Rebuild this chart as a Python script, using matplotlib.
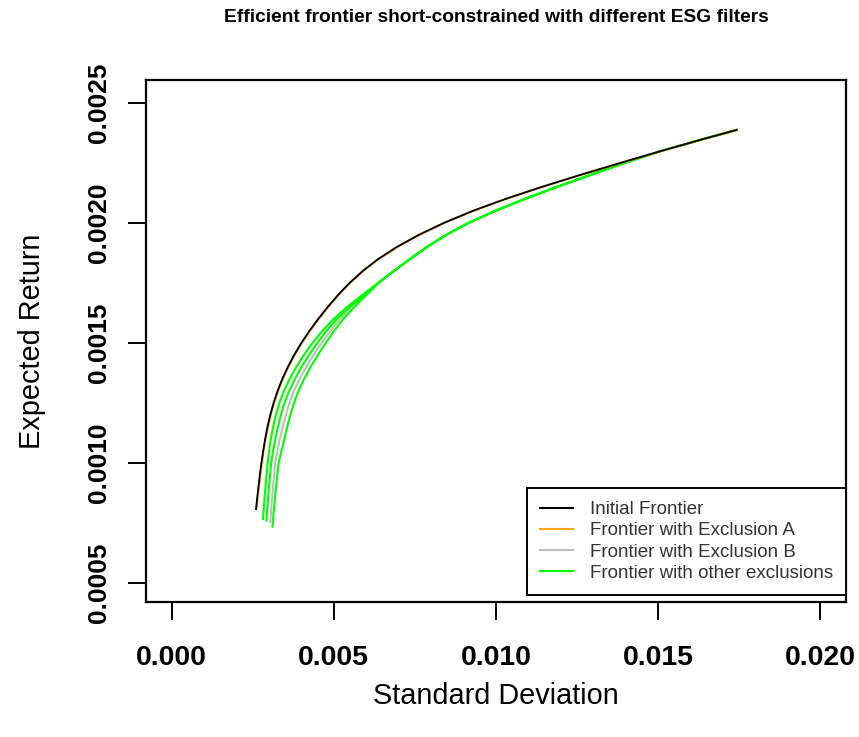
import matplotlib
matplotlib.use("Agg")
import matplotlib.pyplot as plt

plt.rcParams['font.family'] = ['Liberation Sans', 'DejaVu Sans']

# Initial efficient frontier: expected return and standard deviation
init_ret = [0.000808, 0.00085, 0.00090, 0.00095, 0.00100, 0.00105, 0.00110, 0.00115,
            0.00120, 0.00125, 0.00130, 0.00135, 0.00140, 0.00145, 0.00150, 0.00155,
            0.00160, 0.00165, 0.00170, 0.00175, 0.00180, 0.00185, 0.00190, 0.00195,
            0.00200, 0.00205, 0.00210, 0.00215, 0.00220, 0.00225, 0.00230, 0.00235, 0.002388]
init_sd = [0.002604, 0.002637, 0.002678, 0.002722, 0.002770, 0.002824, 0.002885, 0.002957,
           0.003043, 0.003145, 0.003268, 0.003413, 0.003583, 0.003778, 0.004000, 0.004247,
           0.004518, 0.004812, 0.005130, 0.005485, 0.005890, 0.006368, 0.006940, 0.007611,
           0.008385, 0.009272, 0.010285, 0.011397, 0.012585, 0.013822, 0.015085, 0.016388, 0.017417]

# Frontier with exclusion A (practically on top of the initial one)
excl_a_ret = [0.000810, 0.00085, 0.00090, 0.00095, 0.00100, 0.00105, 0.00110, 0.00115,
              0.00120, 0.00125, 0.00130, 0.00135, 0.00140, 0.00145, 0.00150, 0.00155,
              0.00160, 0.00165, 0.00170, 0.00175, 0.00180, 0.00185, 0.00190, 0.00195,
              0.00200, 0.00205, 0.00210, 0.00215, 0.00220, 0.00225, 0.00230, 0.00235, 0.002388]
excl_a_sd = [0.002622, 0.002652, 0.002693, 0.002737, 0.002785, 0.002839, 0.002900, 0.002972,
             0.003058, 0.003160, 0.003283, 0.003428, 0.003598, 0.003793, 0.004015, 0.004262,
             0.004533, 0.004827, 0.005145, 0.005500, 0.005905, 0.006383, 0.006955, 0.007626,
             0.008400, 0.009287, 0.010300, 0.011412, 0.012600, 0.013837, 0.015095, 0.016395, 0.017417]

# Frontier with exclusion B
excl_b_ret = [0.000754, 0.00080, 0.00085, 0.00090, 0.00095, 0.00100, 0.00105, 0.00110,
              0.00115, 0.00120, 0.00125, 0.00130, 0.00135, 0.00140, 0.00145, 0.00150,
              0.00155, 0.00160, 0.00165, 0.00170, 0.00175, 0.00180, 0.00185, 0.00190,
              0.00195, 0.00200, 0.00205, 0.00210, 0.00215, 0.00220, 0.00225, 0.00230,
              0.00235, 0.002388]
excl_b_sd = [0.003044, 0.003069, 0.003097, 0.003127, 0.003160, 0.003195, 0.003263, 0.003339,
             0.003426, 0.003523, 0.003633, 0.003773, 0.003948, 0.004153, 0.004379, 0.004628,
             0.004898, 0.005204, 0.005564, 0.005966, 0.006375, 0.006850, 0.007350, 0.007870,
             0.008455, 0.009145, 0.009965, 0.010880, 0.011870, 0.012900, 0.013950, 0.015085,
             0.016388, 0.017417]

# Frontiers with other exclusions
other1_ret = [0.000767, 0.00080, 0.00085, 0.00090, 0.00095, 0.00100, 0.00105, 0.00110,
              0.00115, 0.00120, 0.00125, 0.00130, 0.00135, 0.00140, 0.00145, 0.00150,
              0.00155, 0.00160, 0.00165, 0.00170, 0.00175, 0.00180, 0.00185, 0.00190,
              0.00195, 0.00200, 0.00205, 0.00210, 0.00215, 0.00220, 0.00225, 0.00230,
              0.00235, 0.002388]
other1_sd = [0.002820, 0.002838, 0.002866, 0.002896, 0.002929, 0.002964, 0.003007, 0.003062,
             0.003130, 0.003215, 0.003325, 0.003465, 0.003640, 0.003845, 0.004080, 0.004345,
             0.004645, 0.004995, 0.005410, 0.005880, 0.006360, 0.006850, 0.007350, 0.007870,
             0.008455, 0.009145, 0.009965, 0.010880, 0.011870, 0.012900, 0.013950, 0.015085,
             0.016388, 0.017417]

other2_ret = [0.000760, 0.00080, 0.00085, 0.00090, 0.00095, 0.00100, 0.00105, 0.00110,
              0.00115, 0.00120, 0.00125, 0.00130, 0.00135, 0.00140, 0.00145, 0.00150,
              0.00155, 0.00160, 0.00165, 0.00170, 0.00175, 0.00180, 0.00185, 0.00190,
              0.00195, 0.00200, 0.00205, 0.00210, 0.00215, 0.00220, 0.00225, 0.00230,
              0.00235, 0.002388]
other2_sd = [0.002924, 0.002946, 0.002974, 0.003004, 0.003037, 0.003072, 0.003130, 0.003201,
             0.003278, 0.003369, 0.003482, 0.003625, 0.003802, 0.004008, 0.004237, 0.004493,
             0.004774, 0.005103, 0.005490, 0.005926, 0.006369, 0.006850, 0.007350, 0.007870,
             0.008455, 0.009145, 0.009965, 0.010880, 0.011870, 0.012900, 0.013950, 0.015085,
             0.016388, 0.017417]

other3_ret = [0.000735, 0.00080, 0.00085, 0.00090, 0.00095, 0.00100, 0.00105, 0.00110,
              0.00115, 0.00120, 0.00125, 0.00130, 0.00135, 0.00140, 0.00145, 0.00150,
              0.00155, 0.00160, 0.00165, 0.00170, 0.00175, 0.00180, 0.00185, 0.00190,
              0.00195, 0.00200, 0.00205, 0.00210, 0.00215, 0.00220, 0.00225, 0.00230,
              0.00235, 0.002388]
other3_sd = [0.003111, 0.003152, 0.003186, 0.003219, 0.003259, 0.003303, 0.003386, 0.003478,
             0.003564, 0.003662, 0.003772, 0.003912, 0.004084, 0.004285, 0.004508, 0.004752,
             0.005008, 0.005297, 0.005635, 0.006003, 0.006382, 0.006850, 0.007350, 0.007870,
             0.008455, 0.009145, 0.009965, 0.010880, 0.011870, 0.012900, 0.013950, 0.015085,
             0.016388, 0.017417]

x_ticks = [0.000, 0.005, 0.010, 0.015, 0.020]
x_tick_labels = ["0.000", "0.005", "0.010", "0.015", "0.020"]
y_ticks = [0.0005, 0.0010, 0.0015, 0.0020, 0.0025]
y_tick_labels = ["0.0005", "0.0010", "0.0015", "0.0020", "0.0025"]

legend_labels = ["Initial Frontier", "Frontier with Exclusion A",
                 "Frontier with Exclusion B", "Frontier with other exclusions"]
col_init, col_a, col_b, col_other = "#000000", "#FFA500", "#BEBEBE", "#00FF00"

W, H = 859, 737
fig = plt.figure(figsize=(W / 100, H / 100), dpi=100)
ax = fig.add_axes([146 / W, 1 - 602 / H, 700 / W, 522 / H])

lw = 1.5
ax.plot(excl_b_sd, excl_b_ret, color=col_b, lw=lw)
ax.plot(other3_sd, other3_ret, color=col_other, lw=lw)
ax.plot(other2_sd, other2_ret, color=col_other, lw=lw)
ax.plot(other1_sd, other1_ret, color=col_other, lw=lw)
ax.plot(excl_a_sd, excl_a_ret, color=col_a, lw=lw)
ax.plot(init_sd, init_ret, color=col_init, lw=1.3)

ax.set_xlim(-0.000786, 0.020786)
ax.set_ylim(0.000421, 0.002596)

ax.set_xticks(x_ticks)
ax.set_xticklabels(x_tick_labels, fontsize=20.5, fontweight='bold')
ax.set_yticks(y_ticks)
ax.set_yticklabels(y_tick_labels, fontsize=19, fontweight='bold', rotation=90, va='center')
ax.tick_params(axis='both', direction='out', length=13, width=1.4)
ax.tick_params(axis='x', pad=18)
ax.tick_params(axis='y', pad=12)

for s in ax.spines.values():
    s.set_linewidth(1.6)

ax.set_xlabel("Standard Deviation", fontsize=20.8, labelpad=8)
ax.set_ylabel("Expected Return", fontsize=20.8, labelpad=30)
fig.text(496 / W, 1 - 18 / H, "Efficient frontier short-constrained with different ESG filters",
         ha='center', va='center', fontsize=13.8, fontweight='bold')

handles = [plt.Line2D([], [], color=c, lw=1.5) for c in (col_init, col_a, col_b, col_other)]
leg = ax.legend(handles, legend_labels, loc='lower right',
                bbox_to_anchor=(1.0, 7 / 522), fontsize=13.5, frameon=True,
                fancybox=False, framealpha=1, edgecolor='black', borderpad=0.7,
                labelspacing=0.22, handlelength=1.75, handletextpad=0.9, borderaxespad=0)
leg.get_frame().set_linewidth(1.4)
for t in leg.get_texts():
    t.set_color('#333333')

fig.savefig("out.png", dpi=100)
